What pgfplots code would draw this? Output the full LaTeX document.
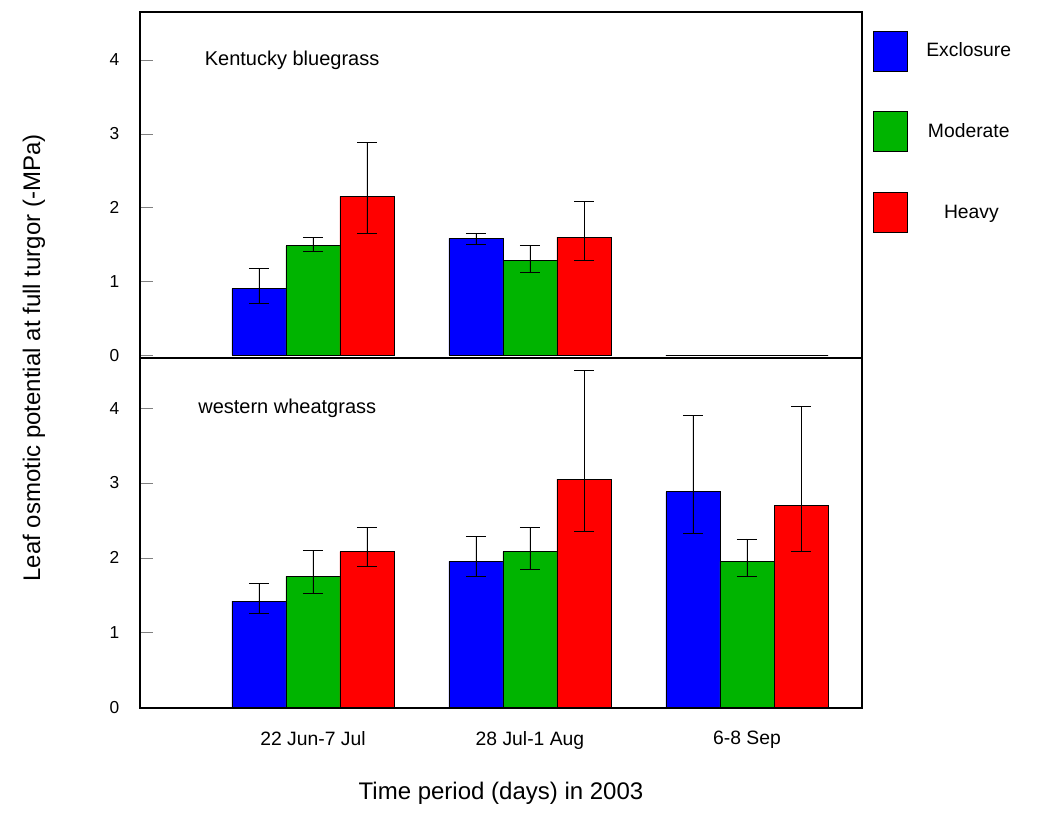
\documentclass[border=0pt]{standalone}
\usepackage{pgfplots}
\pgfplotsset{compat=1.18}
\usepackage{fontspec}
\setmainfont{Liberation Sans}
\definecolor{cb}{RGB}{0,0,255}
\definecolor{cg}{RGB}{0,180,0}
\definecolor{cr}{RGB}{255,0,0}
\pgfplotsset{
  pan/.style={scale only axis, width=541.5pt, xmin=-0.797, xmax=2.53,
    ybar=0pt, bar width=0.249, xtick=\empty, ytick={0,1,2,3,4},
    ytick pos=left, tick align=inside, major tick length=10pt,
    yticklabel style={font=\fontsize{13}{15}\selectfont, xshift=-12pt},
    /pgf/number format/assume math mode=true,
    axis line style={line width=0.9pt},
    every axis plot/.append style={draw=black, line width=0.6pt,
      error bars/y dir=both, error bars/y explicit,
      error bars/error mark options={rotate=90, mark size=7.5pt, line width=0.6pt, black},
      error bars/error bar style={line width=0.6pt, black}}},
}
\begin{document}
\begin{tikzpicture}
\path (0pt,0pt) rectangle (789pt,-617.25pt);
\begin{axis}[pan, at={(105pt,-268.5pt)}, anchor=south west, height=259.5pt, ymin=-0.04, ymax=4.65,
  legend style={at={(1.01,0.955)}, anchor=north west, draw=none, fill=none,
    font=\fontsize{14.5}{17}\selectfont, row sep=30pt},
  legend image code/.code={\draw[#1, draw=black, line width=0.6pt] (0pt,-15pt) rectangle (25pt,15pt);}]
\addplot[fill=cb] coordinates {(0,0.9) +- (0,0.28) -= (0,0.2) (1,1.58) +- (0,0.07) -= (0,0.08) (2,0)};
\addplot[fill=cg] coordinates {(0,1.48) +- (0,0.12) -= (0,0.08) (1,1.28) +- (0,0.2) -= (0,0.16) (2,0)};
\addplot[fill=cr] coordinates {(0,2.15) +- (0,0.73) -= (0,0.5) (1,1.6) +- (0,0.48) -= (0,0.32) (2,0)};
\legend{\hspace*{12pt}Exclosure,\hspace*{12pt}Moderate,\hspace*{16pt}Heavy}
\node[anchor=west, font=\fontsize{15}{18}\selectfont] at (axis cs:-0.52,4.0) {Kentucky bluegrass};
\end{axis}
\begin{axis}[pan, at={(105pt,-531pt)}, anchor=south west, height=262.5pt, ymin=-0.01, ymax=4.67,
  xtick={0,1,2}, xticklabels={22 Jun-7 Jul,28 Jul-1 Aug,6-8 Sep}, xtick style={draw=none},
  xticklabel style={font=\fontsize{14.5}{17}\selectfont, yshift=-14pt},
  xlabel={Time period (days) in 2003}, xlabel style={font=\fontsize{18}{21}\selectfont, yshift=-18pt},
  ylabel={Leaf osmotic potential at full turgor (-MPa)},
  ylabel style={font=\fontsize{18}{21}\selectfont, at={(axis description cs:-0.125,1.0)}, anchor=south}]
\addplot[fill=cb] coordinates {(0,1.42) +- (0,0.23) -= (0,0.17) (1,1.95) +- (0,0.33) -= (0,0.2) (2,2.88) +- (0,1.02) -= (0,0.56)};
\addplot[fill=cg] coordinates {(0,1.75) +- (0,0.35) -= (0,0.23) (1,2.08) +- (0,0.32) -= (0,0.23) (2,1.95) +- (0,0.3) -= (0,0.2)};
\addplot[fill=cr] coordinates {(0,2.08) +- (0,0.32) -= (0,0.2) (1,3.05) +- (0,1.45) -= (0,0.7) (2,2.7) +- (0,1.32) -= (0,0.62)};
\node[anchor=west, font=\fontsize{15}{18}\selectfont] at (axis cs:-0.55,4.0) {western wheatgrass};
\end{axis}
\draw[line width=1.8pt] (105pt,-268.5pt) -- (646.5pt,-268.5pt);
\end{tikzpicture}
\end{document}
